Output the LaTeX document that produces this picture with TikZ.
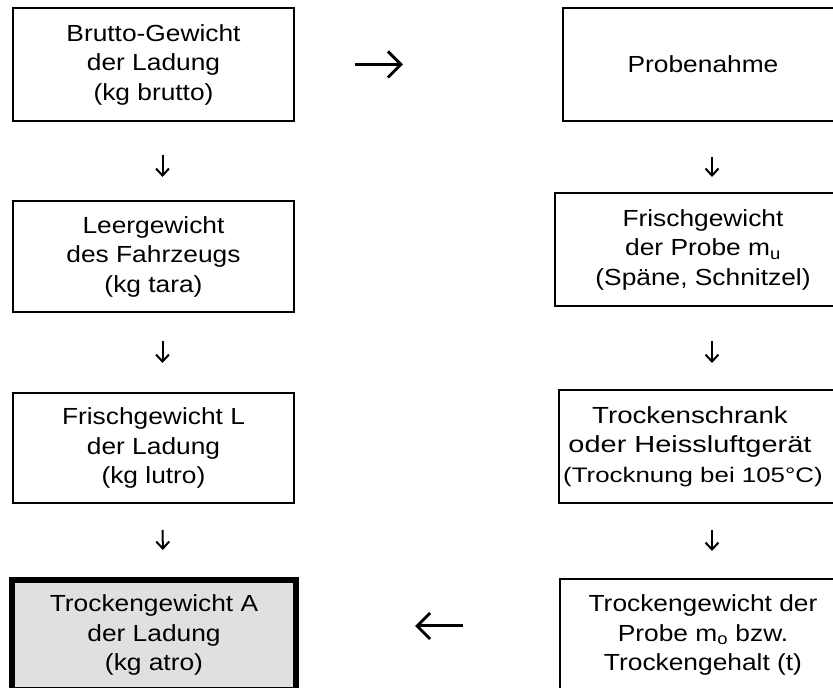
\documentclass[tikz,border=0pt]{standalone}
\usepackage{fontspec}
\setmainfont{Liberation Sans}[FakeStretch=1.13]
\usepackage{xcolor}
\usepackage{graphicx}
\usetikzlibrary{arrows.meta, positioning, calc}
\definecolor{boxgray}{RGB}{224,224,224}

\begin{document}
\begin{tikzpicture}[x=1pt, y=1pt,
    box/.style={draw, line width=2.5pt, align=center, inner sep=0pt, outer sep=0pt,
      minimum width=281pt, minimum height=113pt,
      font=\fontsize{23.3}{29.5}\selectfont},
    darr/.style={line width=2pt, -{Straight Barb[length=7pt, width=13pt]}},
    harr/.style={line width=3pt, -{Straight Barb[length=13pt, width=26pt]}}]
    \useasboundingbox (0,0) rectangle (833,688);

    % Left column
    \node [box] (brutto) at (153.5,623.5) {Brutto-Gewicht\\der Ladung\\(kg brutto)};
    \node [box, minimum height=111pt] (tara) at (153.5,431.5) {Leergewicht\\des Fahrzeugs\\(kg tara)};
    \node [box, minimum height=110pt] (lutro) at (153.5,240) {Frischgewicht L\\der Ladung\\(kg lutro)};
    \node [box, line width=6pt, fill=boxgray, minimum width=284pt, minimum height=110pt] (atro) at (154,53)
      {Trockengewicht A\\der Ladung\\(kg atro)};

    % Right column
    \node [box, minimum width=280pt] (probe) at (703,623.5) {Probenahme};
    \node [box, minimum width=296pt] (frisch) at (703,438.5) {Frischgewicht\\der Probe m\textsubscript{u}\\(Späne, Schnitzel)};
    \node [box, minimum width=288pt] (ofen) at (703,241.5)
      {\hspace*{-26pt}\scalebox{1.05}[1]{Trockenschrank}\\
       \hspace*{-26pt}\scalebox{1.1}[1]{oder Heissluftgerät}\\
       \hspace*{-20pt}\scalebox{1.09}[1]{\fontsize{21}{29.5}\selectfont (Trocknung bei 105°C)}};
    \node [box, minimum width=286pt, minimum height=112pt] (trocken) at (703,53)
      {Trockengewicht der\\Probe m\textsubscript{o} bzw.\\Trockengehalt (t)};

    % Arrows
    \draw [harr, shorten <=61pt, shorten >=160pt] (brutto) -- (probe);
    \draw [darr, shorten <=34pt, shorten >=24pt] ([xshift=9pt]brutto.south) -- ([xshift=9pt]tara.north);
    \draw [darr, shorten <=29pt, shorten >=30pt] ([xshift=9pt]tara.south) -- ([xshift=9pt]lutro.north);
    \draw [darr, shorten <=27pt, shorten >=30pt] ([xshift=9pt]lutro.south) -- ([xshift=9pt]atro.north);
    \draw [darr, shorten <=36pt, shorten >=16pt] ([xshift=9pt]probe.south) -- ([xshift=9pt]frisch.north);
    \draw [darr, shorten <=35pt, shorten >=27pt] ([xshift=9pt]frisch.south) -- ([xshift=9pt]ofen.north);
    \draw [darr, shorten <=27pt, shorten >=28pt] ([xshift=9pt]ofen.south) -- ([xshift=9pt]trocken.north);
    \draw [harr, shorten <=97pt, shorten >=119pt] ([yshift=9pt]trocken.west) -- ([yshift=9pt]atro.east);
\end{tikzpicture}
\end{document}
